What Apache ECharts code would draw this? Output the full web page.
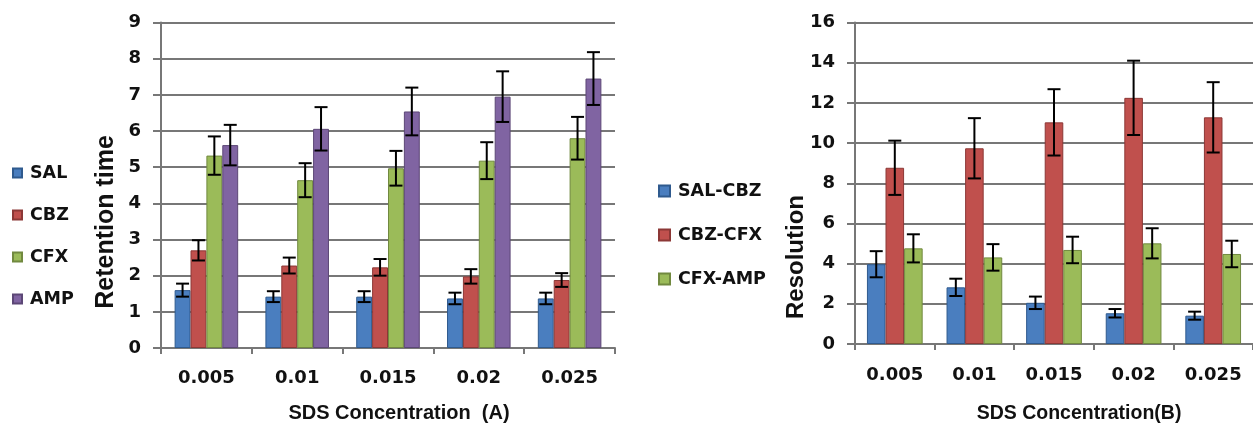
<!DOCTYPE html>
<html>
<head>
<meta charset="utf-8">
<script src="https://cdn.jsdelivr.net/npm/echarts@6/dist/echarts.min.js"></script>
<style>
html,body{margin:0;padding:0;background:#fff;}
#chart{width:1253px;height:425px;}
</style>
</head>
<body>
<div id="chart"></div>
<script>
// ---------- data ----------
const categories = ['0.005', '0.01', '0.015', '0.02', '0.025'];

// Chart A: retention time
const SAL     = [1.60, 1.42, 1.42, 1.37, 1.37];
const SAL_err = [0.18, 0.15, 0.15, 0.16, 0.16];
const CBZ     = [2.70, 2.28, 2.23, 1.98, 1.88];
const CBZ_err = [0.28, 0.22, 0.23, 0.20, 0.19];
const CFX     = [5.32, 4.64, 4.97, 5.18, 5.80];
const CFX_err = [0.53, 0.47, 0.48, 0.51, 0.59];
const AMP     = [5.61, 6.06, 6.54, 6.95, 7.45];
const AMP_err = [0.56, 0.60, 0.66, 0.70, 0.73];

// Chart B: resolution
const SAL_CBZ     = [3.97, 2.82, 2.05, 1.53, 1.41];
const SAL_CBZ_err = [0.65, 0.43, 0.31, 0.21, 0.20];
const CBZ_CFX     = [8.77, 9.74, 11.03, 12.25, 11.28];
const CBZ_CFX_err = [1.35, 1.50, 1.65, 1.85, 1.75];
const CFX_AMP     = [4.76, 4.31, 4.68, 5.01, 4.48];
const CFX_AMP_err = [0.70, 0.66, 0.66, 0.75, 0.66];

const yTicksA = [0, 9, 1];   // min, max, interval
const yTicksB = [0, 16, 2];

// ---------- style ----------
const TICK_FONT = 'DejaVu Sans';
const TITLE_FONT = 'Liberation Sans';
const GRID_COLOR = '#777777';
const TEXT_COLOR = '#111';
const colors = {
  blue:   ['#4a7ebf', '#2f5a8e'],
  red:    ['#c0504d', '#8c3836'],
  green:  ['#9bbb59', '#71893f'],
  purple: ['#8064a2', '#5c4776']
};
const GAP = 0.30;

function barSeries(name, data, col, axisIdx) {
  return {
    type: 'bar', name: name, data: data,
    xAxisIndex: axisIdx, yAxisIndex: axisIdx,
    barGap: '0%', barCategoryGap: (GAP * 100) + '%',
    itemStyle: {color: col[0], borderColor: col[1], borderWidth: 1},
    emphasis: {disabled: true},
    z: 2
  };
}

function errSeries(vals, errs, k, n, axisIdx) {
  const d = vals.map((v, i) => [i, v, errs[i]]);
  return {
    type: 'custom', name: 'err' + axisIdx + '_' + k,
    xAxisIndex: axisIdx, yAxisIndex: axisIdx,
    data: d, z: 5, silent: true,
    renderItem: function (params, api) {
      const i = api.value(0), v = api.value(1), e = api.value(2);
      const band = api.size([1, 0])[0];
      const bw = band * (1 - GAP) / n;
      const cx = api.coord([i, 0])[0] + (k - (n - 1) / 2) * bw;
      const yt = api.coord([i, v + e])[1];
      const yb = api.coord([i, v - e])[1];
      const cap = 6.5;
      const st = {stroke: '#000', lineWidth: 2};
      return {
        type: 'group',
        children: [
          {type: 'line', shape: {x1: cx, y1: yt, x2: cx, y2: yb}, style: st},
          {type: 'line', shape: {x1: cx - cap, y1: yt, x2: cx + cap, y2: yt}, style: st},
          {type: 'line', shape: {x1: cx - cap, y1: yb, x2: cx + cap, y2: yb}, style: st}
        ]
      };
    }
  };
}

function xAxis(gridIndex, margin) {
  return {
    type: 'category', gridIndex: gridIndex, data: categories,
    axisLine: {show: true, lineStyle: {color: GRID_COLOR, width: 2}},
    axisTick: {show: true, length: 6, lineStyle: {color: GRID_COLOR, width: 2}},
    axisLabel: {color: TEXT_COLOR, fontFamily: TICK_FONT, fontWeight: 'bold', fontSize: 18, margin: margin},
    splitLine: {show: false}
  };
}
function yAxis(gridIndex, t) {
  return {
    type: 'value', gridIndex: gridIndex, min: t[0], max: t[1], interval: t[2],
    axisLine: {show: true, lineStyle: {color: GRID_COLOR, width: 2}},
    axisTick: {show: true, length: 8, lineStyle: {color: GRID_COLOR, width: 2}},
    axisLabel: {color: TEXT_COLOR, fontFamily: TICK_FONT, fontWeight: 'bold', fontSize: 18, margin: 20},
    splitLine: {show: true, lineStyle: {color: GRID_COLOR, width: 2}}
  };
}

const chart = echarts.init(document.getElementById('chart'), null, {renderer: 'canvas'});

const legendText = {color: TEXT_COLOR, fontFamily: TICK_FONT, fontWeight: 'bold', fontSize: 17.5, lineHeight: 20, padding: [0, 0, 0, 3]};

const option = {
  animation: false,
  backgroundColor: '#fff',
  grid: [
    {left: 161, top: 22.5, width: 454, height: 325.5, containLabel: false},
    {left: 855, top: 22.5, width: 406, height: 321.5, containLabel: false}
  ],
  xAxis: [xAxis(0, 21), xAxis(1, 22)],
  yAxis: [yAxis(0, yTicksA), yAxis(1, yTicksB)],
  legend: [
    {
      orient: 'vertical', left: 12, top: 163, itemGap: 22, padding: 0,
      itemWidth: 9, itemHeight: 9, icon: 'rect',
      data: ['SAL', 'CBZ', 'CFX', 'AMP'],
      textStyle: legendText, selectedMode: false
    },
    {
      orient: 'vertical', left: 658, top: 181, itemGap: 24, padding: 0,
      itemWidth: 11, itemHeight: 11, icon: 'rect',
      data: ['SAL-CBZ', 'CBZ-CFX', 'CFX-AMP'],
      textStyle: legendText, selectedMode: false
    }
  ],
  graphic: [
    {type: 'text', x: 106, y: 222, rotation: Math.PI / 2,
     style: {text: 'Retention time', fill: TEXT_COLOR, font: 'bold 25px "' + TITLE_FONT + '"', align: 'center', verticalAlign: 'middle'}},
    {type: 'text', x: 399, y: 413,
     style: {text: 'SDS Concentration  (A)', fill: TEXT_COLOR, font: 'bold 20px "' + TITLE_FONT + '"', align: 'center', verticalAlign: 'middle'}},
    {type: 'text', x: 796, y: 257, rotation: Math.PI / 2,
     style: {text: 'Resolution', fill: TEXT_COLOR, font: 'bold 24px "' + TITLE_FONT + '"', align: 'center', verticalAlign: 'middle'}},
    {type: 'text', x: 1079, y: 414,
     style: {text: 'SDS Concentration(B)', fill: TEXT_COLOR, font: 'bold 19.5px "' + TITLE_FONT + '"', align: 'center', verticalAlign: 'middle'}}
  ],
  series: [
    barSeries('SAL', SAL, colors.blue, 0),
    barSeries('CBZ', CBZ, colors.red, 0),
    barSeries('CFX', CFX, colors.green, 0),
    barSeries('AMP', AMP, colors.purple, 0),
    errSeries(SAL, SAL_err, 0, 4, 0),
    errSeries(CBZ, CBZ_err, 1, 4, 0),
    errSeries(CFX, CFX_err, 2, 4, 0),
    errSeries(AMP, AMP_err, 3, 4, 0),
    barSeries('SAL-CBZ', SAL_CBZ, colors.blue, 1),
    barSeries('CBZ-CFX', CBZ_CFX, colors.red, 1),
    barSeries('CFX-AMP', CFX_AMP, colors.green, 1),
    errSeries(SAL_CBZ, SAL_CBZ_err, 0, 3, 1),
    errSeries(CBZ_CFX, CBZ_CFX_err, 1, 3, 1),
    errSeries(CFX_AMP, CFX_AMP_err, 2, 3, 1)
  ]
};
chart.setOption(option);
</script>
</body>
</html>
